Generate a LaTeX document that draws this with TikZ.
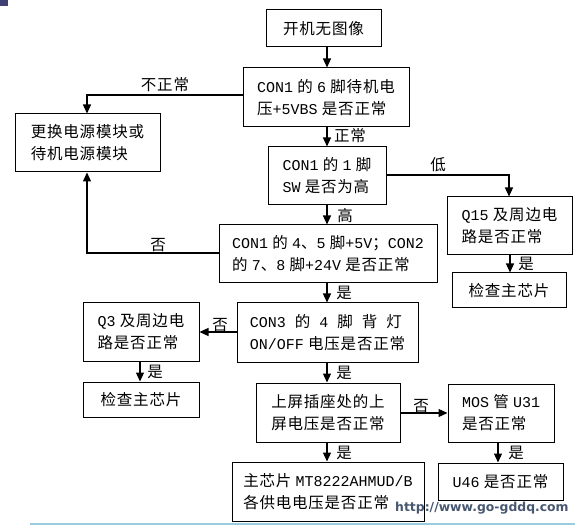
\documentclass[tikz,border=0pt]{standalone}
\usepackage{fontspec}
\setmainfont[LetterSpace=5]{Noto Sans CJK SC}
\newfontfamily\monofam{Liberation Mono}
\newfontfamily\webfont{DejaVu Sans}
\usetikzlibrary{arrows.meta}

\newlength{\du}
\setlength{\du}{1pt}
% latin runs in a mono face, as in the original
\newcommand{\latn}[1]{{\monofam\fontsize{15}{22}\selectfont #1}}

\definecolor{linecolor}{rgb}{0.000000, 0.000000, 0.000000}
\definecolor{webcolor}{rgb}{0.280000, 0.340000, 0.440000}
\definecolor{rulecolor}{rgb}{0.600000, 0.800000, 0.870000}
\definecolor{cornercolor}{rgb}{0.250000, 0.250000, 0.450000}

\tikzset{
  box/.style={draw=linecolor, line width=1\du, fill=white, inner sep=0pt,
    align=left, font=\fontsize{15.5}{22}\selectfont},
  arr/.style={draw=linecolor, line width=1.2\du,
    -{Triangle[length=9pt,width=8pt]}},
  lbl/.style={inner sep=0pt, font=\fontsize{15.5}{16}\selectfont},
}

\begin{document}
\begin{tikzpicture}
\pgftransformxscale{1.000000}
\pgftransformyscale{-1.000000}
\useasboundingbox (0\du,0\du) rectangle (575\du,526\du);
\fill[white] (0\du,0\du) rectangle (575\du,526\du);
\fill[cornercolor] (0\du,0\du) rectangle (8\du,6\du);
\draw[rulecolor, line width=1.5\du] (30\du,524\du) -- (575\du,524\du);
% boxes
\node[box, minimum width=115\du, minimum height=37\du] (start) at (323.5\du,28.5\du) {开机无图像};
\node[box, minimum width=166\du, minimum height=59\du] (standby) at (326\du,97.5\du) {\latn{CON1} 的 \latn{6} 脚待机电\\压\latn{+5VBS} 是否正常};
\node[box, minimum width=145\du, minimum height=58\du] (power) at (87.5\du,143\du) {更换电源模块或\\待机电源模块};
\node[box, minimum width=118\du, minimum height=58\du] (sw) at (327\du,176\du) {\latn{CON1} 的 \latn{1} 脚\\\latn{SW} 是否为高};
\node[box, minimum width=125\du, minimum height=58\du] (qfifteen) at (509.5\du,226\du) {\latn{Q15} 及周边电\\路是否正常};
\node[box, minimum width=218\du, minimum height=58\du] (volt) at (328\du,254\du) {\latn{CON1} 的 \latn{4}、\latn{5} 脚\latn{+5V}；\latn{CON2}\\的 \latn{7}、\latn{8} 脚\latn{+24V} 是否正常};
\node[box, minimum width=114\du, minimum height=35\du] (chipR) at (509\du,290.5\du) {检查主芯片};
\node[box, minimum width=181\du, minimum height=59\du] (backlight) at (327.5\du,332.5\du) {\hbox to 152\du{\latn{CON3}\hfil 的\hfil\latn{4}\hfil 脚\hfil 背\hfil 灯}\\\latn{ON/OFF} 电压是否正常};
\node[box, minimum width=116\du, minimum height=58\du] (qthree) at (141\du,332\du) {\latn{Q3} 及周边电\\路是否正常};
\node[box, minimum width=116\du, minimum height=35\du] (chipL) at (141\du,399.5\du) {检查主芯片};
\node[box, minimum width=144\du, minimum height=59\du] (panel) at (328\du,412.5\du) {上屏插座处的上\\屏电压是否正常};
\node[box, minimum width=106\du, minimum height=58\du] (mos) at (501\du,413\du) {\latn{MOS} 管 \latn{U31}\\是否正常};
\node[box, minimum width=192\du, minimum height=59\du] (mainchip) at (328\du,491.5\du) {主芯片 \latn{MT8222AHMUD/B}\\各供电电压是否正常};
\node[box, minimum width=125\du, minimum height=37\du] (ufortysix) at (500.5\du,481.5\du) {\latn{U46} 是否正常};
% bend points
\coordinate (p1) at (87\du,95\du);
\coordinate (p2) at (509\du,175\du);
\coordinate (p3) at (87\du,253\du);
\coordinate (xm) at (327\du,0\du);
\coordinate (xr) at (510\du,0\du);
\coordinate (xl) at (140\du,0\du);
\coordinate (xu) at (498\du,0\du);
\coordinate (yq) at (0\du,332\du);
\coordinate (ym) at (0\du,413\du);
% connectors
\draw[arr] (xm |- start.south) -- (xm |- standby.north);
\draw[arr] (xm |- standby.south) -- (xm |- sw.north);
\draw[arr] (xm |- sw.south) -- (xm |- volt.north);
\draw[arr] (xm |- volt.south) -- (xm |- backlight.north);
\draw[arr] (xm |- backlight.south) -- (xm |- panel.north);
\draw[arr] (xm |- panel.south) -- (xm |- mainchip.north);
\draw[arr] (standby.west |- p1) -- (p1) -- (power.north -| p1);
\draw[arr] (sw.east |- p2) -- (p2) -- (qfifteen.north -| p2);
\draw[arr] (volt.west |- p3) -- (p3) -- (power.south -| p3);
\draw[arr] (xr |- qfifteen.south) -- (xr |- chipR.north);
\draw[arr] (backlight.west |- yq) -- (qthree.east |- yq);
\draw[arr] (xl |- qthree.south) -- (xl |- chipL.north);
\draw[arr] (panel.east |- ym) -- (mos.west |- ym);
\draw[arr] (xu |- mos.south) -- (xu |- ufortysix.north);
% labels
\node[lbl] (lnotok) at (165\du,85\du) {不正常};
\node[lbl] (lok) at (350\du,136\du) {正常};
\node[lbl] (llow) at (438\du,165\du) {低};
\node[lbl] (lhigh) at (345\du,216\du) {高};
\node[lbl] (lnoa) at (158\du,245\du) {否};
\node[lbl] (lyesa) at (526\du,264\du) {是};
\node[lbl] (lyesb) at (344\du,293\du) {是};
\node[lbl] (lnob) at (220\du,325\du) {否};
\node[lbl] (lyesc) at (155\du,372\du) {是};
\node[lbl] (lyesd) at (344\du,373\du) {是};
\node[lbl] (lnoc) at (421\du,406\du) {否};
\node[lbl] (lyese) at (344\du,453\du) {是};
\node[lbl] (lyesf) at (516\du,453\du) {是};
% watermark
\node[anchor=west, inner sep=0pt, text=webcolor, font=\webfont\bfseries\fontsize{12.4}{14}\selectfont] (web) at (395\du,508\du) {http://www.go-gddq.com};
\end{tikzpicture}
\end{document}
